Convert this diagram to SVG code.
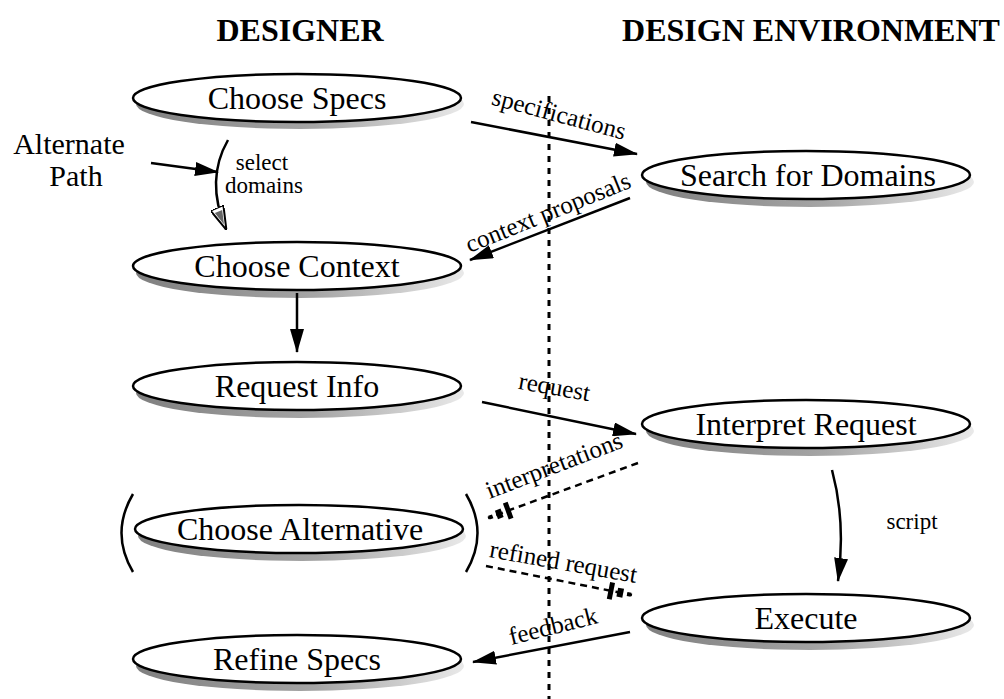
<svg xmlns="http://www.w3.org/2000/svg" width="1004" height="699" viewBox="0 0 1004 699">
<defs>
<linearGradient id="shade" x1="0" y1="0" x2="1" y2="0">
<stop offset="0" stop-color="#555"/>
<stop offset="0.55" stop-color="#888"/>
<stop offset="1" stop-color="#e2e2e2"/>
</linearGradient>
<marker id="ah" viewBox="0 0 24 14" refX="23" refY="7" markerWidth="24" markerHeight="14" markerUnits="userSpaceOnUse" orient="auto">
<path d="M0,0 L24,7 L0,14 Z" fill="#000"/>
</marker>
<marker id="ahh" viewBox="0 0 24 14" refX="23" refY="7" markerWidth="24" markerHeight="14" markerUnits="userSpaceOnUse" orient="auto">
<path d="M0,0 L24,7 L0,14 Z" fill="#fff" stroke="#000" stroke-width="2"/>
<path d="M4,3 L18,7 L4,11 Z" fill="#666"/>
</marker>
<marker id="ahd" viewBox="0 -9 26 18" refX="25" refY="0" markerWidth="26" markerHeight="18" markerUnits="userSpaceOnUse" orient="auto">
<rect x="1" y="-8.5" width="5" height="17" fill="#000"/>
<rect x="10" y="-4.5" width="6" height="9" fill="#000"/>
<rect x="20" y="-2" width="4" height="4" fill="#000"/>
</marker>
</defs>
<style>
.hdr{font-family:"Liberation Serif",serif;font-weight:bold;font-size:32px;fill:#000}
.nt{font-family:"Liberation Serif",serif;font-size:32px;fill:#000}
.lb{font-family:"Liberation Serif",serif;font-size:25px;fill:#000}
.sm{font-family:"Liberation Serif",serif;font-size:23px;fill:#000}
.big{font-family:"Liberation Serif",serif;font-size:30px;fill:#000}
.sh{fill:url(#shade);opacity:0.75}
.el{fill:#fff;stroke:#000;stroke-width:2.5}
.c{fill:none;stroke:#000;stroke-width:2.5}
.d{fill:none;stroke:#000;stroke-width:2.5;stroke-dasharray:7 5}
.v{fill:none;stroke:#000;stroke-width:3;stroke-dasharray:6 6}
</style>
<rect width="1004" height="699" fill="#fff"/>
<text class="hdr" x="300" y="41" text-anchor="middle">DESIGNER</text>
<text class="hdr" x="811" y="41" text-anchor="middle">DESIGN ENVIRONMENT</text>
<g id="lane-divider"><path class="v" d="M549,96 L549,699"/></g>
<g id="choose-specs">
<ellipse class="sh" cx="300" cy="104" rx="164" ry="25"/>
<ellipse class="el" cx="297" cy="98" rx="164" ry="24"/>
<text class="nt" x="297" y="109" text-anchor="middle">Choose Specs</text>
</g>
<g id="choose-context">
<ellipse class="sh" cx="300" cy="273" rx="164" ry="25"/>
<ellipse class="el" cx="297" cy="266" rx="164" ry="24"/>
<text class="nt" x="297" y="277" text-anchor="middle">Choose Context</text>
</g>
<g id="request-info">
<ellipse class="sh" cx="300" cy="393" rx="164" ry="25"/>
<ellipse class="el" cx="297" cy="386" rx="164" ry="24"/>
<text class="nt" x="297" y="397" text-anchor="middle">Request Info</text>
</g>
<g id="choose-alternative">
<ellipse class="sh" cx="302" cy="536" rx="164" ry="25"/>
<ellipse class="el" cx="299" cy="529" rx="164" ry="24"/>
<text class="nt" x="300" y="540" text-anchor="middle">Choose Alternative</text>
<path class="c" d="M133,494 Q110,533 133,572"/>
<path class="c" d="M466,494 Q489,533 466,572"/>
</g>
<g id="refine-specs">
<ellipse class="sh" cx="300" cy="666" rx="164" ry="25"/>
<ellipse class="el" cx="297" cy="659" rx="164" ry="24"/>
<text class="nt" x="297" y="670" text-anchor="middle">Refine Specs</text>
</g>
<g id="search-for-domains">
<ellipse class="sh" cx="810" cy="182" rx="164" ry="25"/>
<ellipse class="el" cx="806" cy="175" rx="164" ry="24"/>
<text class="nt" x="808" y="186" text-anchor="middle">Search for Domains</text>
</g>
<g id="interpret-request">
<ellipse class="sh" cx="810" cy="431" rx="164" ry="25"/>
<ellipse class="el" cx="806" cy="424" rx="164" ry="24"/>
<text class="nt" x="806" y="435" text-anchor="middle">Interpret Request</text>
</g>
<g id="execute">
<ellipse class="sh" cx="810" cy="625" rx="164" ry="25"/>
<ellipse class="el" cx="806" cy="618" rx="164" ry="24"/>
<text class="nt" x="806" y="629" text-anchor="middle">Execute</text>
</g>
<g id="alternate-path">
<text class="big" x="69" y="154" text-anchor="middle">Alternate</text>
<text class="big" x="76" y="186" text-anchor="middle">Path</text>
</g>
<g id="connectors">
<path class="c" d="M151,163 L218,172" marker-end="url(#ah)"/>
<path class="c" d="M228,140 Q205,180 226,229" marker-end="url(#ahh)"/>
<text class="sm" x="262" y="170" text-anchor="middle">select</text>
<text class="sm" x="264" y="193" text-anchor="middle">domains</text>
<path class="c" d="M471,122 L637,154" marker-end="url(#ah)"/>
<text class="lb" transform="translate(557,122) rotate(15)" text-anchor="middle">specifications</text>
<path class="c" d="M630,198 L470,260" marker-end="url(#ah)"/>
<text class="lb" transform="translate(551,220) rotate(-22)" text-anchor="middle">context proposals</text>
<path class="c" d="M482,402 L636,434" marker-end="url(#ah)"/>
<text class="lb" transform="translate(553,395) rotate(10)" text-anchor="middle">request</text>
<path class="d" d="M638,463 L488,518" marker-end="url(#ahd)"/>
<text class="lb" transform="translate(557,473) rotate(-21)" text-anchor="middle">interpretations</text>
<path class="d" d="M486,566 L632,595" marker-end="url(#ahd)"/>
<text class="lb" transform="translate(562,570) rotate(10)" text-anchor="middle">refined request</text>
<path class="c" d="M297,293 L297,352" marker-end="url(#ah)"/>
<path class="c" d="M832,470 Q846,522 838,581" marker-end="url(#ah)"/>
<text class="sm" x="912" y="529" text-anchor="middle">script</text>
<path class="c" d="M630,632 L473,662" marker-end="url(#ah)"/>
<text class="lb" transform="translate(555,634) rotate(-14)" text-anchor="middle">feedback</text>
</g>
</svg>
